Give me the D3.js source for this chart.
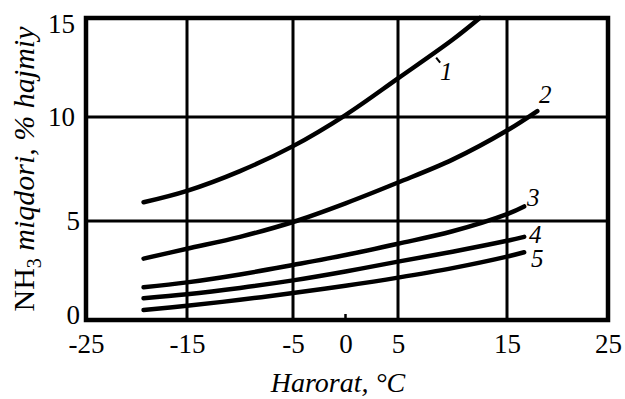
<!DOCTYPE html>
<html>
<head>
<meta charset="utf-8">
<script src="https://cdn.jsdelivr.net/npm/d3@7"></script>
<style>
  html, body { margin: 0; padding: 0; background: #fff; }
  svg { display: block; }
  svg text { font-family: "Liberation Serif", "Times New Roman", Tinos, "DejaVu Serif", serif; fill: #000; }
</style>
</head>
<body>
<svg id="chart" width="625" height="399"></svg>
<script>
// NH3 content (% by volume) versus temperature, five curves
const temps = [-19.3, -15, -10, -5, 0, 5, 10, 15, 16.7];
const curve1Temps = [-19.3, -15, -10, -5, 0, 5, 10, 12.5];
const curve1 = [5.9, 6.45, 7.4, 8.6, 10.1, 11.95, 13.9, 15.0];
const curve2Temps = [-19.3, -15, -10, -5, 0, 5, 10, 15, 18];
const curve2 = [3.1, 3.6, 4.2, 4.95, 5.85, 6.85, 7.95, 9.35, 10.3];
const curve3 = [1.65, 1.9, 2.3, 2.78, 3.28, 3.85, 4.48, 5.33, 5.7];
const curve4 = [1.1, 1.3, 1.62, 2.0, 2.45, 2.95, 3.45, 4.0, 4.2];
const curve5 = [0.5, 0.72, 1.02, 1.36, 1.73, 2.14, 2.62, 3.2, 3.42];
const curveNames = ["1", "2", "3", "4", "5"];

const xTicks = [-25, -15, -5, 0, 5, 15, 25];
const yTicks = [0, 5, 10, 15];
const xGrid = [-15, -5, 5, 15];
const yGrid = [5, 10];

const series = [
  { name: curveNames[0], xs: curve1Temps, ys: curve1 },
  { name: curveNames[1], xs: curve2Temps, ys: curve2 },
  { name: curveNames[2], xs: temps, ys: curve3 },
  { name: curveNames[3], xs: temps, ys: curve4 },
  { name: curveNames[4], xs: temps, ys: curve5 }
];

const svg = d3.select("#chart");

const x = d3.scaleLinear().domain([-25, -15, -5, 5, 15, 25]).range([86, 187, 293, 398, 507, 608]);
const y = d3.scaleLinear().domain([0, 5, 10, 15]).range([320, 221, 117, 18]);

const plotLeft = x(-25), plotRight = x(25), plotTop = y(15), plotBottom = y(0);

// grid
svg.append("g").selectAll("line").data(xGrid).join("line")
  .attr("x1", d => x(d)).attr("x2", d => x(d))
  .attr("y1", plotTop).attr("y2", plotBottom)
  .attr("stroke", "#000").attr("stroke-width", 3);
svg.append("g").selectAll("line").data(yGrid).join("line")
  .attr("x1", plotLeft).attr("x2", plotRight)
  .attr("y1", d => y(d)).attr("y2", d => y(d))
  .attr("stroke", "#000").attr("stroke-width", 3);

// small tick at zero
svg.append("line")
  .attr("x1", x(0)).attr("x2", x(0))
  .attr("y1", plotBottom).attr("y2", plotBottom - 6)
  .attr("stroke", "#000").attr("stroke-width", 2.5);

// frame
svg.append("rect")
  .attr("x", plotLeft).attr("y", plotTop)
  .attr("width", plotRight - plotLeft).attr("height", plotBottom - plotTop)
  .attr("fill", "none").attr("stroke", "#000").attr("stroke-width", 4.5);

// axes (labels only)
const xAxis = svg.append("g")
  .attr("transform", `translate(0,${plotBottom})`)
  .call(d3.axisBottom(x).tickValues(xTicks).tickSize(0).tickPadding(14)
    .tickFormat(d => d < 0 ? "-" + Math.abs(d) : String(d)));
xAxis.attr("font-family", null).attr("font-size", null);
xAxis.select(".domain").remove();
xAxis.selectAll("text").attr("font-size", 27).attr("fill", "#000");

const yAxis = svg.append("g")
  .attr("transform", `translate(${plotLeft},0)`)
  .call(d3.axisLeft(y).tickValues(yTicks).tickSize(0).tickPadding(6));
yAxis.attr("font-family", null).attr("font-size", null);
yAxis.select(".domain").remove();
yAxis.selectAll("text").attr("font-size", 27).attr("fill", "#000")
  .attr("dx", d => d >= 10 ? -5 : 0)
  .attr("dy", d => d === 15 ? "0.52em" : d === 0 ? "0.12em" : "0.32em");

// curves
const line = d3.line().x(d => x(d[0])).y(d => y(d[1])).curve(d3.curveCatmullRom.alpha(0.5));
svg.append("g").selectAll("path").data(series).join("path")
  .attr("d", s => line(s.xs.map((t, i) => [t, s.ys[i]])))
  .attr("fill", "none").attr("stroke", "#000")
  .attr("stroke-width", 4.5).attr("stroke-linecap", "round");

// curve labels: just past each curve's end; curve 1 is labelled beside its path
const labelOffsets = [null, [8, -8], [9, 0], [11, 6], [13, 15]];
series.forEach((s, i) => {
  let lx, ly;
  if (i === 0) {
    const tx = 8.5, tv = 13.15;
    svg.append("line")
      .attr("x1", x(tx)).attr("y1", y(tv) + 3)
      .attr("x2", x(tx) + 4).attr("y2", y(tv) + 8)
      .attr("stroke", "#000").attr("stroke-width", 2);
    lx = x(tx) + 10; ly = y(tv) + 25;
  } else {
    const n = s.xs.length - 1;
    lx = x(s.xs[n]) + labelOffsets[i][0];
    ly = y(s.ys[n]) + labelOffsets[i][1];
  }
  svg.append("text").attr("x", lx).attr("y", ly)
    .attr("text-anchor", "middle").attr("font-size", 25).attr("font-style", "italic")
    .text(s.name);
});

// axis titles
svg.append("text")
  .attr("x", 338).attr("y", 392)
  .attr("text-anchor", "middle").attr("font-size", 28).attr("font-style", "italic")
  .text("Harorat, °C");

const yTitle = svg.append("text")
  .attr("transform", "translate(34,169) rotate(-90)")
  .attr("text-anchor", "middle").attr("font-size", 30);
yTitle.append("tspan").text("NH");
yTitle.append("tspan").attr("font-size", 20).attr("dy", 7).text("3");
yTitle.append("tspan").attr("dy", -7).attr("font-style", "italic").text(" miqdori, % hajmiy");
</script>
</body>
</html>
